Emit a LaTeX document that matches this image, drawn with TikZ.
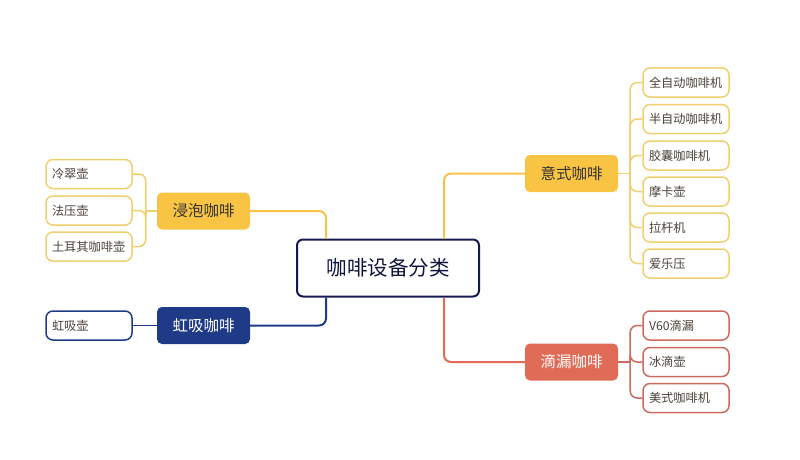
\documentclass[tikz,border=0pt]{standalone}
\usepackage{fontspec}
\setmainfont{Noto Sans CJK SC}
\definecolor{cyellow}{HTML}{F9C444}
\definecolor{cyleaf}{HTML}{F0CF6C}
\definecolor{cnavy}{HTML}{1F3A86}
\definecolor{csalmon}{HTML}{E06B57}
\definecolor{csleaf}{HTML}{CC6A5F}
\definecolor{croot}{HTML}{141A4E}
\definecolor{cleaftext}{HTML}{4A4238}
\tikzstyle{rootbox}=[draw=croot,line width=2pt,fill=white,rounded corners=6pt,minimum width=182pt,minimum height=57pt,font=\fontsize{20.5}{24}\selectfont,text=croot!80!black]
\tikzstyle{branch}=[rounded corners=5pt,minimum width=93pt,minimum height=37pt,font=\fontsize{15.5}{19}\selectfont]
\tikzstyle{leaf}=[draw,line width=1.5pt,fill=white,rounded corners=7pt,text width=74pt,inner xsep=6pt,align=left,minimum height=29pt,font=\fontsize{12.2}{15}\selectfont,text=cleaftext]
\tikzstyle{link}=[line width=2pt,rounded corners=7pt]
\tikzset{>=latex}

\begin{document}
\begin{tikzpicture}[x=1pt,y=-1pt]
  \useasboundingbox (0,0) rectangle (800,460);
  % Root and branches
  \node[rootbox] (root) at (388,268) {咖啡设备分类};
  \node[branch,fill=cyellow,text=black!80] (jp) at (203.5,211) {浸泡咖啡};
  \node[branch,fill=cnavy,text=white] (hx) at (203.5,325.5) {虹吸咖啡};
  \node[branch,fill=cyellow,text=black!80] (ys) at (571.5,173.5) {意式咖啡};
  \node[branch,fill=csalmon,text=white] (dl) at (571.5,362) {滴漏咖啡};

  % Left leaves
  \node[leaf,draw=cyleaf] (jp1) at (89,174) {冷翠壶};
  \node[leaf,draw=cyleaf] (jp2) at (89,210.5) {法压壶};
  \node[leaf,draw=cyleaf] (jp3) at (89,246.5) {土耳其咖啡壶};
  \node[leaf,draw=cnavy] (hx1) at (89,325.5) {虹吸壶};

  % Right leaves
  \node[leaf,draw=cyleaf] (ys1) at (686,82.5) {全自动咖啡机};
  \node[leaf,draw=cyleaf] (ys2) at (686,119) {半自动咖啡机};
  \node[leaf,draw=cyleaf] (ys3) at (686,155.5) {胶囊咖啡机};
  \node[leaf,draw=cyleaf] (ys4) at (686,191.5) {摩卡壶};
  \node[leaf,draw=cyleaf] (ys5) at (686,227.5) {拉杆机};
  \node[leaf,draw=cyleaf] (ys6) at (686,263.5) {爱乐压};
  \node[leaf,draw=csleaf] (dl1) at (686,325.5) {V60滴漏};
  \node[leaf,draw=csleaf] (dl2) at (686,362) {冰滴壶};
  \node[leaf,draw=csleaf] (dl3) at (686,398) {美式咖啡机};

  % Root to branches
  \draw[link,draw=cyellow] ([xshift=30pt]root.north west) |- (jp.east);
  \draw[link,draw=cnavy] ([xshift=30pt]root.south west) |- (hx.east);
  \draw[link,draw=cyellow] ([xshift=-36pt]root.north east) |- (ys.west);
  \draw[link,draw=csalmon] ([xshift=-36pt]root.south east) |- (dl.west);

  % Brackets
  \coordinate (jpb) at ([xshift=-11pt]jp.west);
  \coordinate (ysb) at ([xshift=12pt]ys.east);
  \coordinate (dlb) at ([xshift=12pt]dl.east);
  \draw[link,line width=1.5pt,draw=cyleaf] (jp.west) -- (jpb);
  \foreach \l in {jp1,jp2,jp3}
    \draw[link,line width=1.5pt,draw=cyleaf] (jpb) |- (\l.east);
  \draw[line width=1.5pt,draw=cnavy] (hx.west) -- (hx1.east);
  \draw[link,line width=1.5pt,draw=cyleaf] (ys.east) -- (ysb);
  \foreach \l in {ys1,ys2,ys3,ys4,ys5,ys6}
    \draw[link,line width=1.5pt,draw=cyleaf] (ysb) |- (\l.west);
  \draw[link,line width=1.5pt,draw=csleaf] (dl.east) -- (dlb);
  \foreach \l in {dl1,dl2,dl3}
    \draw[link,line width=1.5pt,draw=csleaf] (dlb) |- (\l.west);
\end{tikzpicture}
\end{document}
